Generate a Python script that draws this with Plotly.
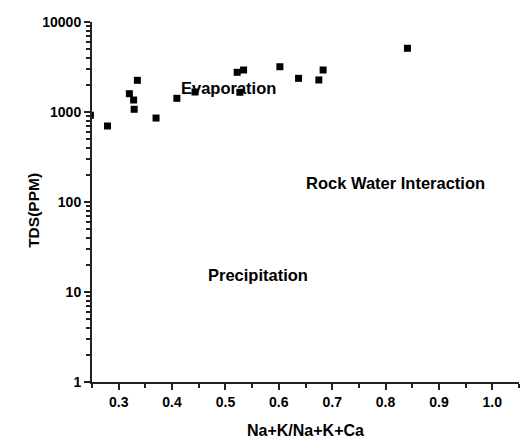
import plotly.graph_objects as go

ratio = [0.247, 0.279, 0.320, 0.328, 0.329, 0.335, 0.370, 0.409, 0.443,
         0.522, 0.527, 0.534, 0.602, 0.637, 0.675, 0.683, 0.841]
tds = [918, 699, 1597, 1359, 1072, 2249, 857, 1419, 1668,
       2762, 1656, 2929, 3185, 2366, 2271, 2929, 5105]

labels = ["Evaporation", "Rock Water Interaction", "Precipitation"]
label_x = [0.505, 0.819, 0.561]
label_y = [3.27, 2.214, 1.189]

x_ticks = [0.3, 0.4, 0.5, 0.6, 0.7, 0.8, 0.9, 1.0]
x_ticktext = ["0.3", "0.4", "0.5", "0.6", "0.7", "0.8", "0.9", "1.0"]
y_ticks = [1, 10, 100, 1000, 10000]
y_ticktext = ["1", "10", "100", "1000", "10000"]

FONT = "Liberation Sans, Arial, sans-serif"

fig = go.Figure()
fig.add_trace(go.Scatter(
    x=ratio, y=tds, mode="markers",
    marker=dict(symbol="square", size=7, color="black"),
    showlegend=False, cliponaxis=True,
))

for t, xx, yy in zip(labels, label_x, label_y):
    fig.add_annotation(x=xx, y=yy, xref="x", yref="y", text=t, showarrow=False,
                       font=dict(family=FONT, size=16.5, weight="bold", color="black"),
                       xanchor="center", yanchor="middle")

# y-axis title as rotated annotation for precise placement
fig.add_annotation(x=-0.136, y=0.478, xref="paper", yref="paper", text="TDS(PPM)",
                   textangle=-90, showarrow=False,
                   font=dict(family=FONT, size=15.5, weight="bold", color="black"),
                   xanchor="center", yanchor="middle")

fig.update_layout(
    width=523, height=442,
    margin=dict(l=92, r=4, t=22, b=60),
    plot_bgcolor="white", paper_bgcolor="white",
    font=dict(family=FONT, color="black"),
)

fig.update_xaxes(
    range=[0.25, 1.05], tickvals=x_ticks, ticktext=x_ticktext,
    showgrid=False, zeroline=False, showline=True, linecolor="#222", linewidth=2,
    ticks="outside", ticklen=6, tickwidth=2, tickcolor="#222",
    minor=dict(ticks="outside", ticklen=4, tickwidth=1.5, tickcolor="#222", dtick=0.05, tick0=0.25),
    tickfont=dict(family=FONT, size=14, weight="bold", color="black"),
    title=dict(text="Na+K/Na+K+Ca", font=dict(family=FONT, size=16, weight="bold", color="black"), standoff=16),
)
fig.update_yaxes(
    type="log", range=[0, 4], tickvals=y_ticks, ticktext=y_ticktext,
    showgrid=False, zeroline=False, showline=True, linecolor="#222", linewidth=2,
    ticks="outside", ticklen=6, tickwidth=2, tickcolor="#222",
    minor=dict(ticks="outside", ticklen=4, tickwidth=1.5, tickcolor="#222", dtick="D1"),
    tickfont=dict(family=FONT, size=14, weight="bold", color="black"),
)

fig.write_html("out.html")
